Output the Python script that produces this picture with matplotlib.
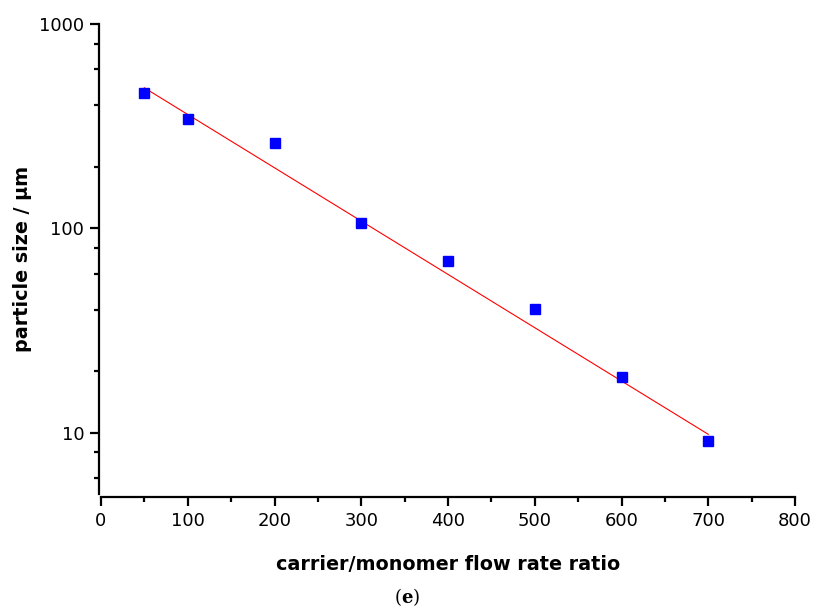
import numpy as np
import matplotlib.pyplot as plt
from matplotlib.ticker import LogLocator, FixedLocator, NullFormatter

# measured points
ratio = [50, 100, 200, 300, 400, 500, 600, 700]
size_um = [460, 344, 260, 106, 69, 40.3, 18.8, 9.1]

# exponential fit line (straight in log space), end points
fit_x = [50, 700]
fit_y = [487, 9.8]

plt.rcParams['font.family'] = 'DejaVu Sans'
plt.rcParams['mathtext.fontset'] = 'dejavuserif'

fig = plt.figure(figsize=(8.14, 6.15), dpi=100)
ax = fig.add_axes([101/814, (615-494)/615, (795-101)/814, (494-24)/615])

ax.plot(fit_x, fit_y, color='red', lw=0.8)
ax.plot(ratio, size_um, 's', color='blue', ms=6.5, mec='blue')

ax.set_yscale('log')
ax.set_ylim(5, 1000)
ax.set_xlim(0, 800)

ax.xaxis.set_major_locator(FixedLocator(np.arange(0, 801, 100)))
ax.xaxis.set_minor_locator(FixedLocator(np.arange(50, 800, 100)))
ax.yaxis.set_major_locator(FixedLocator([10, 100, 1000]))
ax.yaxis.set_major_formatter(plt.FuncFormatter(lambda v, p: '%d' % v))
ax.yaxis.set_minor_locator(LogLocator(base=10, subs=(2, 4, 6, 8)))
ax.yaxis.set_minor_formatter(NullFormatter())

for s in ['top', 'right']:
    ax.spines[s].set_visible(False)
ax.spines['left'].set_position(('outward', 1.5))
ax.spines['bottom'].set_position(('outward', 2.2))
for s in ['left', 'bottom']:
    ax.spines[s].set_linewidth(1.6)

ax.tick_params(which='major', length=6.5, width=1.6, labelsize=13, pad=4)
ax.tick_params(which='minor', length=3.5, width=1.6)

ax.set_xlabel('carrier/monomer flow rate ratio', fontsize=13.8, fontweight='bold', labelpad=18)
ax.set_ylabel('particle size / µm', fontsize=13.8, fontweight='bold', labelpad=5)

fig.text(407/814, 1 - 597/615, r'($\mathbf{e}$)', ha='center', va='center',
         fontsize=13, family='DejaVu Serif')

fig.savefig('out.png', dpi=100)
